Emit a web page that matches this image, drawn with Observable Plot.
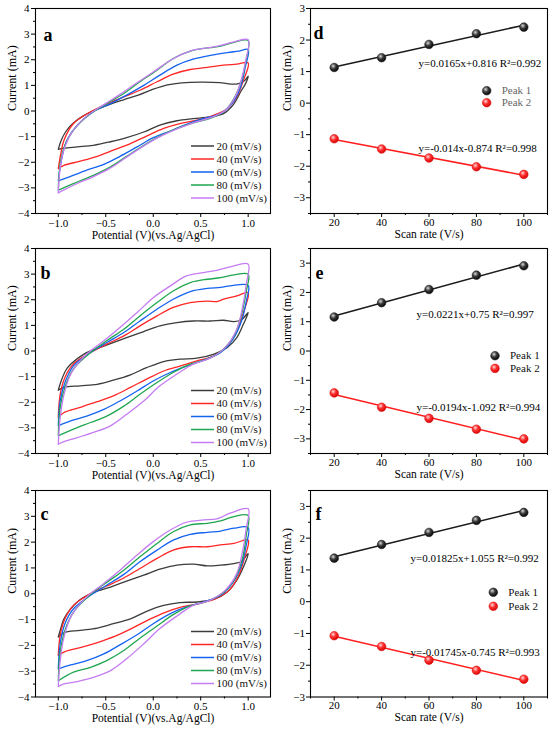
<!DOCTYPE html>
<html><head><meta charset="utf-8">
<script src="https://cdn.jsdelivr.net/npm/d3@7"></script>
<script src="https://cdn.jsdelivr.net/npm/@observablehq/plot@0.6"></script>
<style>
body{margin:0;background:#fff;}
#wrap{position:relative;width:550px;height:729px;overflow:hidden;background:#fff;}
#wrap svg{position:absolute;overflow:visible;}
</style></head><body>
<svg width="0" height="0" style="position:absolute"><defs>
<radialGradient id="ballBlack" cx="0.38" cy="0.34" r="0.7"><stop offset="0" stop-color="#d8d8d8"/><stop offset="0.45" stop-color="#3a3a3a"/><stop offset="1" stop-color="#000"/></radialGradient>
<radialGradient id="ballRed" cx="0.38" cy="0.34" r="0.7"><stop offset="0" stop-color="#ffd8d8"/><stop offset="0.45" stop-color="#ff3030"/><stop offset="1" stop-color="#d00000"/></radialGradient>
</defs></svg>
<div id="wrap"></div>
<script>
// ---------- shared ----------
const scanRates = [20, 40, 60, 80, 100];
const cvColors = ["#3c3c3c", "#ff2626", "#1463f0", "#1fa64f", "#c57cf2"];
const cvLegend = ["20 (mV/s)", "40 (mV/s)", "60 (mV/s)", "80 (mV/s)", "100 (mV/s)"];
const cvXTicks = [-1, -0.5, 0, 0.5, 1];
const cvXMinor = [-0.75, -0.25, 0.25, 0.75];
const cvYTicks = [-4, -3, -2, -1, 0, 1, 2, 3, 4];
const cvYMinor = [-3.5, -2.5, -1.5, -0.5, 0.5, 1.5, 2.5, 3.5];
const cvXLabel = "Potential (V)(vs.Ag/AgCl)";
const yLabel = "Current (mA)";

// ---------- panel a (Potential V, Current mA) ----------
const cvA20 = [[-1,-1.5],[-0.97,-1.15],[-0.92,-0.8],[-0.85,-0.5],[-0.75,-0.22],[-0.6,0.05],[-0.45,0.27],[-0.3,0.45],[-0.15,0.63],[0,0.85],[0.15,1.02],[0.3,1.1],[0.5,1.13],[0.7,1.11],[0.82,1.05],[0.9,1.07],[0.96,1.18],[1,1.36],
  [0.97,1.05],[0.93,0.81],[0.84,0.23],[0.74,-0.1],[0.6,-0.23],[0.42,-0.3],[0.25,-0.38],[0.07,-0.55],[-0.1,-0.82],[-0.28,-1.04],[-0.45,-1.2],[-0.63,-1.34],[-0.8,-1.4],[-0.94,-1.45],[-1,-1.5]];
const cvA40 = [[-1,-2.25],[-0.97,-1.6],[-0.94,-1.14],[-0.84,-0.49],[-0.66,-0.03],[-0.49,0.27],[-0.31,0.55],[-0.14,0.81],[0.04,1.14],[0.21,1.44],[0.39,1.62],[0.57,1.7],[0.74,1.79],[0.88,1.83],[1,1.88],
  [0.95,1.2],[0.88,0.55],[0.78,0.1],[0.64,-0.16],[0.46,-0.36],[0.28,-0.49],[0.11,-0.68],[-0.07,-0.98],[-0.24,-1.27],[-0.42,-1.53],[-0.59,-1.77],[-0.77,-1.96],[-0.94,-2.12],[-1,-2.25]];
const cvA60 = [[-1,-2.73],[-0.96,-1.79],[-0.91,-1.14],[-0.8,-0.55],[-0.63,-0.03],[-0.45,0.29],[-0.28,0.62],[-0.1,1.0],[0.07,1.4],[0.25,1.79],[0.42,2.02],[0.6,2.17],[0.78,2.28],[0.9,2.34],[1,2.4],
  [0.97,1.72],[0.92,0.94],[0.83,0.29],[0.71,-0.1],[0.53,-0.29],[0.35,-0.52],[0.18,-0.78],[0,-1.04],[-0.17,-1.4],[-0.35,-1.77],[-0.52,-2.08],[-0.7,-2.31],[-0.87,-2.55],[-1,-2.73]];
const cvA80 = [[-1,-3.09],[-0.98,-2.05],[-0.93,-1.34],[-0.84,-0.75],[-0.66,-0.1],[-0.49,0.29],[-0.31,0.68],[-0.14,1.14],[0.04,1.59],[0.21,2.05],[0.4,2.35],[0.55,2.45],[0.7,2.52],[0.85,2.68],[1,2.75],
  [0.97,1.85],[0.93,1.2],[0.86,0.55],[0.76,0.03],[0.6,-0.29],[0.42,-0.46],[0.25,-0.68],[0.07,-0.98],[-0.1,-1.34],[-0.28,-1.77],[-0.45,-2.18],[-0.63,-2.51],[-0.8,-2.77],[-0.94,-2.99],[-1,-3.09]];
const cvA100 = [[-1,-3.2],[-0.98,-2.2],[-0.94,-1.5],[-0.86,-0.85],[-0.7,-0.2],[-0.52,0.25],[-0.35,0.65],[-0.17,1.1],[0,1.52],[0.2,2.02],[0.4,2.36],[0.55,2.45],[0.7,2.55],[0.85,2.7],[1,2.78],
  [0.97,1.9],[0.93,1.25],[0.87,0.6],[0.77,0.06],[0.6,-0.27],[0.42,-0.46],[0.25,-0.7],[0.07,-1.0],[-0.1,-1.36],[-0.28,-1.8],[-0.45,-2.22],[-0.63,-2.56],[-0.8,-2.83],[-0.94,-3.08],[-1,-3.2]];

// ---------- panel b ----------
const cvB20 = [[-1,-1.53],[-0.97,-1.17],[-0.92,-0.75],[-0.87,-0.52],[-0.73,-0.12],[-0.56,0.14],[-0.45,0.29],[-0.28,0.52],[-0.1,0.76],[0.07,0.98],[0.25,1.11],[0.42,1.17],[0.6,1.17],[0.74,1.2],[0.85,1.15],[0.93,1.22],[1,1.5],
  [0.95,1.05],[0.88,0.52],[0.78,0.14],[0.64,-0.12],[0.46,-0.28],[0.28,-0.32],[0.11,-0.41],[-0.07,-0.65],[-0.24,-0.93],[-0.42,-1.14],[-0.59,-1.3],[-0.77,-1.36],[-0.94,-1.42],[-1,-1.53]];
const cvB40 = [[-1,-2.6],[-0.98,-1.69],[-0.93,-1.03],[-0.84,-0.51],[-0.66,-0.06],[-0.49,0.27],[-0.31,0.59],[-0.14,0.98],[0.04,1.37],[0.21,1.7],[0.39,1.89],[0.57,1.95],[0.67,1.93],[0.74,2.02],[0.88,2.15],[1,2.28],
  [0.95,1.5],[0.88,0.78],[0.78,0.2],[0.64,-0.19],[0.46,-0.39],[0.28,-0.59],[0.11,-0.78],[-0.07,-1.1],[-0.24,-1.42],[-0.42,-1.75],[-0.59,-1.98],[-0.77,-2.2],[-0.94,-2.4],[-1,-2.6]];
const cvB60 = [[-1,-2.92],[-0.98,-1.95],[-0.93,-1.23],[-0.84,-0.58],[-0.66,-0.06],[-0.49,0.33],[-0.31,0.72],[-0.14,1.17],[0.04,1.63],[0.21,2.02],[0.39,2.32],[0.57,2.44],[0.71,2.48],[0.81,2.54],[1,2.56],
  [0.98,1.95],[0.93,1.17],[0.84,0.46],[0.71,-0.06],[0.53,-0.36],[0.35,-0.59],[0.18,-0.84],[0,-1.17],[-0.17,-1.56],[-0.35,-1.95],[-0.52,-2.28],[-0.7,-2.54],[-0.87,-2.73],[-1,-2.92]];
const cvB80 = [[-1,-3.31],[-0.98,-2.2],[-0.93,-1.42],[-0.84,-0.7],[-0.66,-0.06],[-0.49,0.4],[-0.31,0.85],[-0.14,1.37],[0.04,1.89],[0.21,2.34],[0.39,2.67],[0.57,2.8],[0.71,2.86],[0.85,2.97],[1,3.0],
  [0.98,2.34],[0.93,1.43],[0.86,0.65],[0.74,0.07],[0.57,-0.32],[0.39,-0.51],[0.21,-0.84],[0.04,-1.23],[-0.14,-1.69],[-0.31,-2.15],[-0.49,-2.54],[-0.66,-2.79],[-0.84,-3.05],[-1,-3.31]];
const cvB100 = [[-1,-3.64],[-0.98,-2.6],[-0.94,-1.69],[-0.86,-0.84],[-0.7,-0.12],[-0.52,0.4],[-0.35,0.92],[-0.17,1.5],[0,2.08],[0.18,2.54],[0.35,2.93],[0.53,3.06],[0.67,3.15],[0.81,3.28],[1,3.39],
  [0.98,2.61],[0.94,1.7],[0.88,0.85],[0.76,0.14],[0.6,-0.28],[0.42,-0.51],[0.25,-0.9],[0.07,-1.36],[-0.1,-1.95],[-0.28,-2.47],[-0.45,-2.92],[-0.63,-3.18],[-0.8,-3.38],[-0.94,-3.54],[-1,-3.64]];

// ---------- panel c ----------
const cvC20 = [[-1,-1.68],[-0.97,-1.3],[-0.94,-0.97],[-0.8,-0.32],[-0.63,0.05],[-0.45,0.26],[-0.28,0.49],[-0.1,0.72],[0.07,0.95],[0.25,1.11],[0.42,1.15],[0.57,1.08],[0.71,1.11],[0.85,1.17],[0.93,1.25],[1,1.56],
  [0.95,1.04],[0.88,0.53],[0.78,0.07],[0.64,-0.21],[0.46,-0.32],[0.28,-0.34],[0.11,-0.45],[-0.07,-0.68],[-0.24,-0.97],[-0.42,-1.16],[-0.59,-1.33],[-0.77,-1.42],[-0.94,-1.51],[-1,-1.68]];
const cvC40 = [[-1,-2.39],[-0.98,-1.61],[-0.93,-0.97],[-0.84,-0.45],[-0.66,0.01],[-0.49,0.3],[-0.31,0.61],[-0.14,0.98],[0.04,1.37],[0.21,1.69],[0.39,1.82],[0.57,1.82],[0.71,1.89],[0.85,1.95],[1,2.08],
  [0.96,1.37],[0.9,0.72],[0.8,0.14],[0.66,-0.19],[0.48,-0.38],[0.3,-0.51],[0.12,-0.73],[-0.06,-1.03],[-0.23,-1.35],[-0.4,-1.64],[-0.58,-1.88],[-0.75,-2.07],[-0.93,-2.24],[-1,-2.39]];
const cvC60 = [[-1,-2.91],[-0.98,-1.94],[-0.93,-1.16],[-0.84,-0.58],[-0.66,-0.06],[-0.49,0.33],[-0.31,0.75],[-0.14,1.24],[0.04,1.69],[0.21,2.08],[0.39,2.3],[0.57,2.38],[0.71,2.43],[0.85,2.54],[1,2.56],
  [0.98,1.89],[0.93,1.11],[0.84,0.44],[0.71,-0.06],[0.53,-0.32],[0.35,-0.51],[0.18,-0.77],[0,-1.16],[-0.17,-1.59],[-0.35,-1.98],[-0.52,-2.33],[-0.7,-2.59],[-0.87,-2.76],[-1,-2.91]];
const cvC80 = [[-1,-3.37],[-0.98,-2.26],[-0.93,-1.42],[-0.84,-0.71],[-0.66,-0.03],[-0.49,0.44],[-0.31,0.91],[-0.14,1.43],[0.04,1.95],[0.21,2.4],[0.39,2.67],[0.57,2.73],[0.71,2.82],[0.85,2.99],[1,3.03],
  [0.98,2.28],[0.94,1.37],[0.86,0.59],[0.74,0.05],[0.57,-0.29],[0.39,-0.47],[0.21,-0.81],[0.04,-1.25],[-0.14,-1.72],[-0.31,-2.2],[-0.49,-2.59],[-0.66,-2.85],[-0.84,-3.04],[-1,-3.37]];
const cvC100 = [[-1,-3.59],[-0.98,-2.59],[-0.94,-1.68],[-0.86,-0.84],[-0.7,-0.12],[-0.52,0.4],[-0.35,0.91],[-0.17,1.5],[0,2.02],[0.18,2.47],[0.35,2.77],[0.53,2.86],[0.67,2.9],[0.81,3.12],[1,3.29],
  [0.98,2.54],[0.94,1.63],[0.88,0.79],[0.76,0.14],[0.6,-0.25],[0.42,-0.45],[0.25,-0.86],[0.07,-1.35],[-0.1,-1.94],[-0.28,-2.52],[-0.45,-2.98],[-0.63,-3.24],[-0.8,-3.4],[-0.94,-3.49],[-1,-3.59]];

// ---------- panels d, e, f (scan rate vs peak current) ----------
const rates = [20, 40, 60, 80, 100];
const rateTicks = [20, 40, 60, 80, 100];
const rateMinor = [10, 30, 50, 70, 90, 110];
const rateLabel = "Scan rate (V/s)";
const peakNames = ["Peak 1", "Peak 2"];
const peak1D = [1.13, 1.44, 1.86, 2.2, 2.41];
const peak2D = [-1.13, -1.455, -1.74, -2.02, -2.26];
const peak1E = [1.16, 1.65, 2.1, 2.59, 2.91];
const peak2E = [-1.43, -1.92, -2.3, -2.67, -3.0];
const peak1F = [1.37, 1.8, 2.18, 2.56, 2.81];
const peak2F = [-1.07, -1.41, -1.84, -2.16, -2.44];
const eqD = ["y=0.0165x+0.816 R\u00B2=0.992", "y=-0.014x-0.874 R\u00B2=0.998"];
const eqE = ["y=0.0221x+0.75 R\u00B2=0.997", "y=-0.0194x-1.092 R\u00B2=0.994"];
const eqF = ["y=0.01825x+1.055 R\u00B2=0.992", "y=-0.01745x-0.745 R\u00B2=0.993"];

const FONT = "'Liberation Serif', 'Times New Roman', serif";
const wrap = document.getElementById("wrap");
const rowTop = [0, 240, 482];
const rowMB = [30, 30, 28.5];
const H = 243, MT = 8;
const fmtMinus = d3.format("d");
const noLabel = () => "";

function place(svg, left, top) {
  // drop the empty label texts of the minor-tick axes
  d3.select(svg).selectAll("text").filter(function () { return this.textContent === ""; }).remove();
  svg.style.left = left + "px";
  svg.style.top = top + "px";
  wrap.appendChild(svg);
}

function cvPanel(letter, curves, row, letterDx, letterDy, legendLast) {
  const data = [];
  curves.forEach((pts, i) => pts.forEach(([v, c]) => data.push({v, c, rate: scanRates[i]})));
  const mb = rowMB[row];
  const svg = Plot.plot({
    width: 280, height: H, marginLeft: 35, marginRight: 10, marginTop: MT, marginBottom: mb,
    style: {fontFamily: FONT, fontSize: "11px", color: "#000", background: "transparent", overflow: "visible"},
    x: {domain: [-1.24, 1.235]},
    y: {domain: [-4, 4]},
    color: {type: "ordinal", domain: scanRates, range: cvColors},
    marks: [
      Plot.line(data, {x: "v", y: "c", z: "rate", stroke: "rate", strokeWidth: 1.3, curve: "catmull-rom"}),
      Plot.frame({stroke: "#000", strokeWidth: 1.1}),
      Plot.axisX({ticks: cvXTicks, tickSize: 4, tickPadding: 1.5, tickFormat: d3.format(".1f"), label: null}),
      Plot.axisX({ticks: cvXMinor, tickSize: 2, tickFormat: noLabel, label: null}),
      Plot.axisY({ticks: cvYTicks, tickSize: 4, tickPadding: 2, tickFormat: fmtMinus, label: null}),
      Plot.axisY({ticks: cvYMinor, tickSize: 2, tickFormat: noLabel, label: null}),
      Plot.text([cvXLabel], {text: d => d, frameAnchor: "bottom", dy: 25, fontSize: 11.5}),
      Plot.text([yLabel], {text: d => d, frameAnchor: "left", dx: -23, rotate: -90, fontSize: 12}),
      Plot.text([letter], {text: d => d, frameAnchor: "top-left", textAnchor: "start", dx: letterDx, dy: letterDy, fontSize: 18, fontWeight: "bold"})
    ]
  });
  // legend (inside plot, lower right)
  const g = d3.select(svg).append("g").attr("text-anchor", "start");
  const boxBottom = H - mb;
  scanRates.forEach((r, i) => {
    const y = boxBottom - legendLast - (4 - i) * 13;
    g.append("line").attr("x1", 191).attr("x2", 214).attr("y1", y).attr("y2", y)
      .attr("stroke", cvColors[i]).attr("stroke-width", 1.5);
    g.append("text").attr("x", 216.5).attr("y", y).attr("dy", "0.34em").attr("text-anchor", "start")
      .attr("font-family", FONT).attr("font-size", 11).attr("fill", "#111").text(cvLegend[i]);
  });
  place(svg, 0, rowTop[row]);
}

function ratePanel(letter, p1, p2, eqs, yDomain, row, opts) {
  const pts1 = rates.map((x, i) => ({x, y: p1[i]}));
  const pts2 = rates.map((x, i) => ({x, y: p2[i]}));
  const mb = rowMB[row];
  const yTicks = d3.range(Math.ceil(yDomain[0]), Math.floor(yDomain[1]) + 1);
  const yMinor = d3.range(yDomain[0], yDomain[1] + 0.01, 0.5).filter(v => !Number.isInteger(v));
  const svg = Plot.plot({
    width: 270, height: H, marginLeft: 30, marginRight: 3, marginTop: MT, marginBottom: mb,
    style: {fontFamily: FONT, fontSize: "11px", color: "#000", background: "transparent", overflow: "visible"},
    x: {domain: [10, 110]},
    y: {domain: yDomain},
    marks: [
      Plot.linearRegressionY(pts1, {x: "x", y: "y", stroke: "#1a1a1a", strokeWidth: 1.5, ci: 0}),
      Plot.linearRegressionY(pts2, {x: "x", y: "y", stroke: "#ff1f1f", strokeWidth: 1.5, ci: 0}),
      Plot.dot(pts1, {x: "x", y: "y", r: 4.3, fill: "url(#ballBlack)", stroke: "#222", strokeWidth: 0.6}),
      Plot.dot(pts2, {x: "x", y: "y", r: 4.3, fill: "url(#ballRed)", stroke: "#e01010", strokeWidth: 0.6}),
      Plot.frame({stroke: "#000", strokeWidth: 1.1}),
      Plot.axisX({ticks: rateTicks, tickSize: 4, tickPadding: 0.5, tickFormat: d => String(d), label: null}),
      Plot.axisX({ticks: rateMinor, tickSize: 2, tickFormat: noLabel, label: null}),
      Plot.axisY({ticks: yTicks, tickSize: 4, tickPadding: 1.5, tickFormat: fmtMinus, label: null}),
      Plot.axisY({ticks: yMinor, tickSize: 2, tickFormat: noLabel, label: null}),
      Plot.text([rateLabel], {text: d => d, frameAnchor: "bottom", dy: 24, fontSize: 11.5}),
      Plot.text([yLabel], {text: d => d, frameAnchor: "left", dx: -23.5, rotate: -90, fontSize: 12}),
      Plot.text([letter], {text: d => d, frameAnchor: "top-left", textAnchor: "start", dx: opts.letterDx, dy: opts.letterDy, fontSize: 18, fontWeight: "bold"}),
      Plot.text([eqs[0]], {text: d => d, frameAnchor: "top-left", textAnchor: "start", dx: opts.eqDx, dy: opts.eqDy[0], fontSize: 11}),
      Plot.text([eqs[1]], {text: d => d, frameAnchor: "top-left", textAnchor: "start", dx: opts.eqDx, dy: opts.eqDy[1], fontSize: 11})
    ]
  });
  const g = d3.select(svg).append("g").attr("text-anchor", "start");
  const fills = ["url(#ballBlack)", "url(#ballRed)"];
  const strokes = ["#222", "#e01010"];
  peakNames.forEach((name, i) => {
    const cx = 30 + opts.legX, cy = MT + opts.legY[i];
    g.append("circle").attr("cx", cx).attr("cy", cy).attr("r", 4.3)
      .attr("fill", fills[i]).attr("stroke", strokes[i]).attr("stroke-width", 0.6);
    g.append("text").attr("x", 30 + opts.legTextX).attr("y", cy).attr("dy", "0.34em").attr("text-anchor", "start")
      .attr("font-family", FONT).attr("font-size", 11).attr("fill", opts.legColor).text(name);
  });
  place(svg, 280, rowTop[row]);
}

cvPanel("a", [cvA20, cvA40, cvA60, cvA80, cvA100], 0, 8, 20, 15);
cvPanel("b", [cvB20, cvB40, cvB60, cvB80, cvB100], 1, 5, 17.5, 10.5);
cvPanel("c", [cvC20, cvC40, cvC60, cvC80, cvC100], 2, 5, 16.5, 13);

ratePanel("d", peak1D, peak2D, eqD, [-3.5, 3], 0,
  {letterDx: 3, letterDy: 18, eqDx: 108, eqDy: [51, 136], legX: 176.7, legY: [82.7, 94.7], legTextX: 191.7, legColor: "#666"});
ratePanel("e", peak1E, peak2E, eqE, [-3.5, 3.5], 1,
  {letterDx: 5, letterDy: 17.5, eqDx: 106, eqDy: [61.7, 155], legX: 185, legY: [107.7, 120.4], legTextX: 200, legColor: "#111"});
ratePanel("f", peak1F, peak2F, eqF, [-3, 3.5], 2,
  {letterDx: 5, letterDy: 16.5, eqDx: 100, eqDy: [63.3, 157.3], legX: 183.3, legY: [102.3, 116.3], legTextX: 198.3, legColor: "#111"});
</script>
</body></html>
